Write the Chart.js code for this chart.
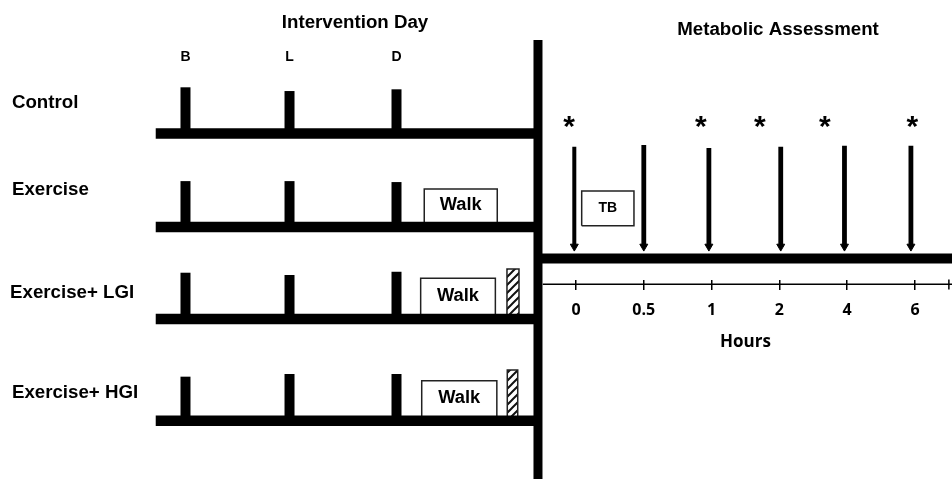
<!DOCTYPE html>
<html>
<head>
<meta charset="utf-8">
<script src="https://cdn.jsdelivr.net/npm/chart.js@4.4.1/dist/chart.umd.min.js"></script>
<style>
  html, body { margin: 0; padding: 0; background: #fff; overflow: hidden; }
  #wrap { position: relative; width: 952px; height: 479px; }
</style>
</head>
<body>
<div id="wrap"><canvas id="schema"></canvas></div>
<script>
// ---- intervention day (left panel), x in meal slots, y in group rows ----
const groups = ["Control", "Exercise", "Exercise+ LGI", "Exercise+ HGI"];
const groupLevel = [0, 0.977, 1.938, 3.0];
const groupLabelX = [-1.645, -1.645, -1.663, -1.645];
const groupLabelDy = [-0.324, -0.386, -0.272, -0.295];
const meals = ["B", "L", "D"];
const mealPos = [0, 0.986, 2.0];
const mealHeight = [
  [0.483, 0.444, 0.462],
  [0.480, 0.480, 0.470],
  [0.484, 0.460, 0.494],
  [0.460, 0.488, 0.488]
];
const walkStart = [null, 2.263, 2.229, 2.239];
const walkEnd = [null, 2.955, 2.937, 2.951];
const walkHeight = [null, 0.397, 0.425, 0.418];
const snackStart = [null, null, 3.047, 3.050];
const snackEnd = [null, null, 3.161, 3.149];
const snackHeight = [null, null, 0.522, 0.530];
const dayStart = -0.282;
const dayEnd = 3.341;

// ---- metabolic assessment (right panel), x in sample index ----
const hourLabels = ["0", "0.5", "1", "2", "4", "6"];
const hourTicks = [0, 1, 2, 3, 4, 5];
const axisEnd = 5.5;
const samplePos = [-0.025, 1.0, 1.96, 3.02, 3.96, 4.94];
const sampleTop = [0.138, 0.120, 0.151, 0.138, 0.127, 0.127];
const sampleTip = 1.18;
const starPos = [-0.103, 1.84, 2.71, 3.67, 4.96];
const starLevel = -0.110;
const tbBox = [0.084, 0.855, 0.601, 0.963];
const assessLevel = 1.306;
const hoursLevel = 1.575;
const tickLevel = 1.525;

const black = "#000";
const arial = '"Liberation Sans", Arial, sans-serif';
const sans = '"Open Sans", "Noto Sans", sans-serif';

function seg(points, width, axis, extra) {
  return Object.assign({
    type: "line",
    data: points,
    xAxisID: axis,
    yAxisID: "y",
    borderColor: black,
    borderWidth: width,
    borderCapStyle: "butt",
    pointRadius: 0,
    tension: 0,
    fill: false
  }, extra || {});
}

function rect(x0, x1, top, bottom) {
  return [
    { x: x0, y: bottom }, { x: x0, y: top },
    { x: x1, y: top }, { x: x1, y: bottom }, { x: x0, y: bottom }
  ];
}

function hatch() {
  const c = document.createElement("canvas");
  c.width = 8; c.height = 8;
  const g = c.getContext("2d");
  g.fillStyle = "#fff";
  g.fillRect(0, 0, 8, 8);
  g.strokeStyle = "#111";
  g.lineWidth = 2;
  g.beginPath();
  g.moveTo(-2, 10); g.lineTo(10, -2);
  g.moveTo(-6, 6); g.lineTo(6, -6);
  g.moveTo(2, 14); g.lineTo(14, 2);
  g.stroke();
  return g.createPattern(c, "repeat");
}

const datasets = [];
// group timelines
groupLevel.forEach(function (lv) {
  datasets.push(seg([{ x: dayStart, y: lv }, { x: dayEnd, y: lv }], 10.5, "x"));
});
// meals
groupLevel.forEach(function (lv, r) {
  mealPos.forEach(function (mx, m) {
    datasets.push(seg([{ x: mx, y: lv }, { x: mx, y: lv - mealHeight[r][m] }], 10, "x"));
  });
});
// divider
datasets.push(seg([{ x: dayEnd, y: -0.977 }, { x: dayEnd, y: 3.7 }], 9, "x"));
// assessment line, arrows and hours axis line
datasets.push(seg([{ x: -0.56, y: assessLevel }, { x: 5.6, y: assessLevel }], 10, "xh"));
samplePos.forEach(function (sx, i) {
  datasets.push(seg([{ x: sx, y: sampleTop[i] }, { x: sx, y: sampleTip }], i === 0 ? 4 : 4.8, "xh", {
    pointRadius: [0, 4.6],
    pointStyle: "triangle",
    pointRotation: 180,
    pointBackgroundColor: black,
    pointBorderColor: black,
    pointBorderWidth: 1
  }));
});
datasets.push(seg([{ x: -0.49, y: hoursLevel }, { x: 5.6, y: hoursLevel }], 1.5, "xh"));
// closing tick at the end of the hours axis
datasets.push(seg([{ x: axisEnd, y: tickLevel }, { x: axisEnd, y: tickLevel + 0.104 }], 1.5, "xh"));
// boxes
datasets.push(seg(rect(tbBox[0], tbBox[1], tbBox[2], tbBox[3]), 1.5, "xh", { borderColor: "#222" }));
groupLevel.forEach(function (lv, r) {
  if (walkStart[r] !== null) {
    datasets.push(seg(rect(walkStart[r], walkEnd[r], lv - walkHeight[r], lv), 1.5, "x", { borderColor: "#222" }));
  }
  if (snackStart[r] !== null) {
    datasets.push(seg(rect(snackStart[r], snackEnd[r], lv - snackHeight[r], lv), 1.5, "x", {
      borderColor: "#222", fill: "shape", backgroundColor: hatch()
    }));
  }
});

// text labels, placed through the scales
const big = "bold 18.7px " + arial;
const labels = [];
labels.push({ t: "Intervention Day", x: 1.607, y: -1.154, ax: "x", f: big });
labels.push({ t: "Metabolic Assessment", x: 2.98, y: -1.081, ax: "xh", f: big });
meals.forEach(function (m, i) {
  labels.push({ t: m, x: mealPos[i], y: -0.802, ax: "x", f: "bold 14px " + arial });
});
groups.forEach(function (g, r) {
  labels.push({ t: g, x: groupLabelX[r], y: groupLevel[r] + groupLabelDy[r], ax: "x", f: big, a: "left" });
  if (walkStart[r] !== null) {
    labels.push({ t: "Walk", x: (walkStart[r] + walkEnd[r]) / 2, y: groupLevel[r] - walkHeight[r] / 2 - 0.03, ax: "x", f: "bold 18.3px " + arial });
  }
});
labels.push({ t: "TB", x: (tbBox[0] + tbBox[1]) / 2, y: (tbBox[2] + tbBox[3]) / 2, ax: "xh", f: "bold 14px " + arial });
starPos.forEach(function (sx) {
  labels.push({ t: "*", x: sx, y: starLevel, ax: "xh", f: "bold 30px " + arial, star: 30 });
});
labels.push({ t: "Hours", x: 2.5, y: 2.178, ax: "xh", f: "bold 17px " + sans });

const textPlugin = {
  id: "schemaText",
  afterDatasetsDraw: function (chart) {
    const ctx = chart.ctx;
    ctx.save();
    ctx.fillStyle = "#000";
    labels.forEach(function (l) {
      const px = chart.scales[l.ax].getPixelForValue(l.x);
      let py = chart.scales.y.getPixelForValue(l.y);
      ctx.font = l.f;
      ctx.textAlign = l.a || "center";
      if (l.star) {
        ctx.textBaseline = "alphabetic";
        py += l.star * 0.447;
      } else {
        ctx.textBaseline = "middle";
      }
      ctx.fillText(l.t, px, py);
    });
    ctx.restore();
  }
};

new Chart(document.getElementById("schema"), {
  type: "line",
  data: { datasets: datasets },
  plugins: [textPlugin],
  options: {
    responsive: true,
    maintainAspectRatio: false,
    animation: false,
    events: [],
    devicePixelRatio: 1,
    layout: { padding: 0, autoPadding: false },
    plugins: { legend: { display: false }, tooltip: { enabled: false }, title: { display: false } },
    scales: {
      x: { type: "linear", min: -1.758, max: 7.265, display: false },
      xh: {
        type: "linear",
        min: -8.496,
        max: 5.546,
        position: { y: tickLevel },
        border: { display: false },
        grid: { drawOnChartArea: false, drawTicks: true, tickLength: 10, color: black, lineWidth: 1.5 },
        afterBuildTicks: function (scale) {
          scale.ticks = hourTicks.map(function (v) { return { value: v }; });
        },
        ticks: {
          autoSkip: false,
          maxRotation: 0,
          padding: 11.5,
          color: black,
          font: { family: sans, size: 16, weight: "bold" },
          callback: function (v) { return hourLabels[v] !== undefined ? hourLabels[v] : ""; }
        }
      },
      y: { type: "linear", reverse: true, min: -1.395, max: 3.609, display: false }
    }
  }
});
</script>
</body>
</html>
